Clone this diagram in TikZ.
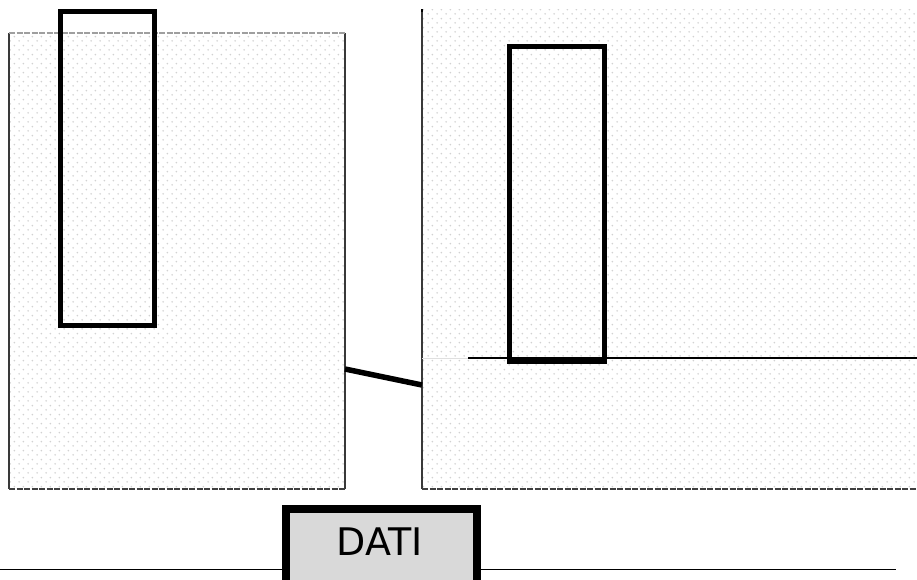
\documentclass[tikz,border=0pt]{standalone}
\usepackage{fontspec}
\setmainfont{DejaVu Sans}
\usetikzlibrary{patterns.meta}
\tikzdeclarepattern{
  name=softdots,
  type=uncolored,
  bottom left={(0pt,0pt)},
  top right={(8.7pt,8.7pt)},
  tile size={(8.7pt,8.7pt)},
  code={\fill (2.2pt,2.2pt) circle (0.95pt); \fill (6.55pt,6.55pt) circle (0.95pt);}
}
\begin{document}
\begin{tikzpicture}[x=1pt,y=-1pt,
  panelbox/.style={pattern={softdots}, pattern color=gray!35, inner sep=0pt, outer sep=0pt, anchor=north west},
  solidedge/.style={draw=gray!45!black, line width=1.3pt},
  dashedge/.style={draw=gray!50!black, line width=1.2pt, dash pattern=on 6pt off 1.5pt},
  tallbox/.style={draw=black, line width=5pt, inner sep=0pt, outer sep=0pt, fill=none},
  datibox/.style={draw=black, line width=8pt, fill=gray!30, inner sep=0pt, outer sep=0pt},
  thinline/.style={draw=black, line width=1.4pt},
  link/.style={draw=black, line width=5.5pt}
]
\useasboundingbox (0,0) rectangle (917,579);
% panels
\node[panelbox, minimum width=336pt, minimum height=456pt] (lp) at (9,33) {};
\node[panelbox, minimum width=495pt, minimum height=480pt] (rp) at (422,9) {};
% left panel edges
\draw[solidedge] (lp.north west) -- (lp.south west);
\draw[solidedge] (lp.north east) -- (lp.south east);
\draw[dashedge, draw=gray!75] (lp.north west) -- (lp.north east);
\draw[dashedge] (lp.south west) -- (lp.south east);
% right panel edges
\draw[solidedge] (rp.north west) -- (rp.south west);
\draw[draw=black, line width=1.6pt] (rp.north west) -- ++(0,3);
\draw[dashedge] (rp.south west) -- (rp.south east);
% horizontal line in right panel
\coordinate (hf) at (422,358);
\coordinate (h1) at (468,358);
\coordinate (h2) at (917,358);
\draw[draw=gray!25, line width=1pt] (hf) -- (h1);
\draw[thinline, line width=1.2pt] (h1) -- (h2);
% tall boxes
\node[tallbox, minimum width=94pt, minimum height=314pt] (tl) at (107,168) {};
\node[tallbox, minimum width=95pt, minimum height=315.5pt] (tr) at (557,203.75) {};
% link between panels
\coordinate (c1) at (345,369);
\coordinate (c2) at (422,385);
\draw[link] (c1) -- (c2);
% bottom line and DATI box
\coordinate (bl) at (0,569.5);
\coordinate (br) at (896,569.5);
\draw[thinline] (bl) -- (br);
\node[datibox, minimum width=191pt, minimum height=76pt] (dati) at (381.5,547) {};
\node[font=\fontsize{38}{40}\selectfont, inner sep=0pt] (datitext) at (380,542) {DATI};
\end{tikzpicture}
\end{document}
